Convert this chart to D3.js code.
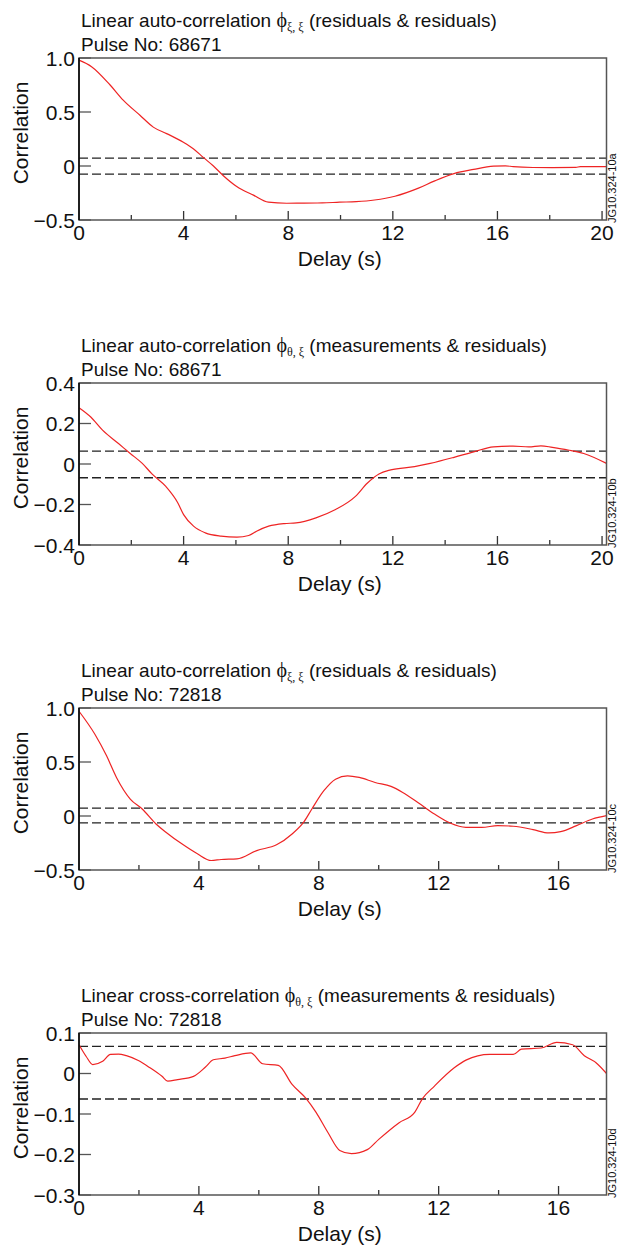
<!DOCTYPE html>
<html>
<head>
<meta charset="utf-8">
<script src="https://cdn.jsdelivr.net/npm/d3@7"></script>
<style>
  html, body { margin: 0; padding: 0; background: #fff; }
  svg { display: block; font-family: "Liberation Sans", Arial, Helvetica, sans-serif; }
</style>
</head>
<body>
<svg id="chart" width="619" height="1251"></svg>
<script>
// Correlation curves (delay in s, correlation value)
const delays1 = [0, 0.48, 1.19, 1.69, 2.33, 2.84, 3.35, 3.99, 4.37, 4.75, 5.14, 5.52, 6.03, 6.67, 7.24, 7.94, 8.6, 9.3, 9.96, 10.6, 11.3, 12.08, 12.98, 13.58, 14.34, 15.09, 15.85, 16.3, 16.6, 17.36, 18.1, 19.0, 19.17, 20.17];
const corr1   = [0.98, 0.92, 0.75, 0.61, 0.47, 0.36, 0.30, 0.22, 0.16, 0.08, 0.0, -0.09, -0.19, -0.27, -0.335, -0.345, -0.343, -0.342, -0.335, -0.33, -0.315, -0.28, -0.205, -0.14, -0.07, -0.032, -0.002, 0.002, -0.006, -0.014, -0.015, -0.013, -0.006, -0.006];

const delays2 = [0, 0.45, 0.9, 1.51, 1.96, 2.42, 2.79, 3.32, 3.77, 4.0, 4.38, 4.83, 5.43, 6.04, 6.49, 6.79, 7.25, 7.85, 8.3, 9.06, 9.81, 10.57, 11.02, 11.47, 11.92, 12.83, 13.43, 14.34, 15.09, 15.85, 16.6, 17.2, 17.66, 18.1, 18.7, 19.3, 20.17];
const corr2   = [0.278, 0.232, 0.167, 0.101, 0.052, 0.003, -0.049, -0.111, -0.19, -0.25, -0.307, -0.34, -0.356, -0.361, -0.353, -0.332, -0.307, -0.294, -0.291, -0.266, -0.225, -0.16, -0.095, -0.049, -0.029, -0.013, 0.003, 0.033, 0.06, 0.085, 0.088, 0.085, 0.09, 0.082, 0.069, 0.052, 0.003];

const delays3 = [0, 0.53, 0.92, 1.25, 1.71, 2.11, 2.57, 2.9, 3.43, 3.95, 4.41, 4.74, 5.27, 5.93, 6.59, 7.11, 7.51, 7.77, 8.17, 8.56, 8.96, 9.35, 9.88, 10.41, 10.8, 11.33, 11.86, 12.38, 12.91, 13.44, 13.97, 14.49, 15.15, 15.68, 16.07, 16.6, 17.13, 17.6];
const corr3   = [0.97, 0.757, 0.557, 0.357, 0.157, 0.065, -0.074, -0.15, -0.258, -0.35, -0.412, -0.403, -0.397, -0.32, -0.267, -0.166, -0.052, 0.065, 0.234, 0.341, 0.372, 0.357, 0.31, 0.274, 0.218, 0.12, 0.018, -0.065, -0.105, -0.105, -0.089, -0.095, -0.126, -0.157, -0.145, -0.089, -0.028, 0.003];

const delays4 = [0, 0.24, 0.46, 0.79, 1.05, 1.32, 1.58, 1.98, 2.37, 2.77, 2.96, 3.29, 3.82, 4.22, 4.48, 4.87, 5.2, 5.73, 6.13, 6.65, 7.11, 7.58, 7.91, 8.3, 8.7, 9.09, 9.62, 10.01, 10.67, 11.2, 11.46, 11.86, 12.52, 12.91, 13.7, 14.49, 14.76, 15.42, 15.94, 16.47, 16.86, 17.26, 17.6];
const corr4   = [0.071, 0.042, 0.022, 0.03, 0.047, 0.048, 0.044, 0.032, 0.014, -0.007, -0.019, -0.015, -0.007, 0.016, 0.034, 0.038, 0.044, 0.051, 0.024, 0.02, -0.027, -0.062, -0.096, -0.145, -0.19, -0.198, -0.188, -0.162, -0.122, -0.096, -0.062, -0.031, 0.014, 0.033, 0.047, 0.047, 0.06, 0.063, 0.077, 0.071, 0.044, 0.026, 0.0];

// Confidence bounds (upper, lower) for each panel
const bounds1 = [0.072, -0.075];
const bounds2 = [0.064, -0.068];
const bounds3 = [0.072, -0.063];
const bounds4 = [0.067, -0.063];

// Axis extents and tick labels
const xMaxes   = [20.17, 20.17, 17.6, 17.6];
const yDomains = [[-0.5, 1.0], [-0.4, 0.4], [-0.5, 1.0], [-0.3, 0.1]];
const yTicks1 = [1.0, 0.5, 0, -0.5];
const yTicks2 = [0.4, 0.2, 0, -0.2, -0.4];
const yTicks3 = [1.0, 0.5, 0, -0.5];
const yTicks4 = [0.1, 0, -0.1, -0.2, -0.3];
const xMajor1 = [0, 4, 8, 12, 16, 20];
const xMinor1 = [2, 6, 10, 14, 18];
const xMajor3 = [0, 4, 8, 12, 16];
const xMinor3 = [2, 6, 10, 14];

const titleHeads = ["Linear auto-correlation ", "Linear auto-correlation ", "Linear auto-correlation ", "Linear cross-correlation "];
const titleSubs  = ["\u03be, \u03be", "\u03b8, \u03be", "\u03be, \u03be", "\u03b8, \u03be"];
const titleTails = [" (residuals & residuals)", " (measurements & residuals)", " (residuals & residuals)", " (measurements & residuals)"];
const pulses = ["68671", "68671", "72818", "72818"];
const codes  = ["JG10.324-10a", "JG10.324-10b", "JG10.324-10c", "JG10.324-10d"];

const panels = [
  { x: delays1, y: corr1, b: bounds1, yt: yTicks1, xMaj: xMajor1, xMin: xMinor1 },
  { x: delays2, y: corr2, b: bounds2, yt: yTicks2, xMaj: xMajor1, xMin: xMinor1 },
  { x: delays3, y: corr3, b: bounds3, yt: yTicks3, xMaj: xMajor3, xMin: xMinor3 },
  { x: delays4, y: corr4, b: bounds4, yt: yTicks4, xMaj: xMajor3, xMin: xMinor3 }
];

const svg = d3.select("#chart");
const left = 79, right = 606.5, firstTop = 58, step = 325, plotH = 162;
const fmt = v => (v === 0 ? "0" : d3.format(".1f")(v).replace("-", "\u2212"));

panels.forEach((p, i) => {
  const top = firstTop + i * step, bottom = top + plotH;
  const x = d3.scaleLinear().domain([0, xMaxes[i]]).range([left, right]);
  const y = d3.scaleLinear().domain(yDomains[i]).range([bottom, top]);
  const g = svg.append("g");

  // title lines
  const t = g.append("text").attr("x", left + 2).attr("y", top - 31)
    .attr("font-size", 19).attr("fill", "#111");
  t.append("tspan").text(titleHeads[i]);
  t.append("tspan").attr("font-family", "'Liberation Serif', 'DejaVu Serif', serif").attr("font-size", 20).text("\u03d5");
  t.append("tspan").attr("font-family", "'Liberation Serif', 'DejaVu Serif', serif").attr("font-size", 12).attr("dy", 4).text(titleSubs[i]);
  t.append("tspan").attr("dy", -4).text(titleTails[i]);
  g.append("text").attr("x", left + 2).attr("y", top - 7)
    .attr("font-size", 19).attr("fill", "#111").text("Pulse No: " + pulses[i]);

  // confidence bounds
  g.selectAll("line.bound").data(p.b).enter().append("line")
    .attr("x1", left).attr("x2", right)
    .attr("y1", d => y(d)).attr("y2", d => y(d))
    .attr("stroke", "#222").attr("stroke-width", 1.3).attr("stroke-dasharray", "9,4");

  // correlation curve
  const line = d3.line().x(d => x(d[0])).y(d => y(d[1])).curve(d3.curveMonotoneX);
  g.append("path").datum(p.x.map((d, k) => [d, p.y[k]]))
    .attr("d", line).attr("fill", "none").attr("stroke", "#ee2424").attr("stroke-width", 1.2);

  // ticks
  g.selectAll("line.ymaj").data(p.yt).enter().append("line")
    .attr("x1", left).attr("x2", left + 12).attr("y1", d => y(d)).attr("y2", d => y(d))
    .attr("stroke", "#555").attr("stroke-width", 1.3);
  g.selectAll("line.xmaj").data(p.xMaj.filter(d => d > 0)).enter().append("line")
    .attr("x1", d => x(d)).attr("x2", d => x(d)).attr("y1", bottom).attr("y2", bottom - 9)
    .attr("stroke", "#333").attr("stroke-width", 1.3);
  g.selectAll("line.xmin").data(p.xMin).enter().append("line")
    .attr("x1", d => x(d)).attr("x2", d => x(d)).attr("y1", bottom).attr("y2", bottom - 5)
    .attr("stroke", "#333").attr("stroke-width", 1.3);

  // frame
  g.append("rect").attr("x", left).attr("y", top).attr("width", right - left).attr("height", plotH)
    .attr("fill", "none").attr("stroke", "#555").attr("stroke-width", 1.5);
  g.append("line").attr("x1", left).attr("x2", left).attr("y1", top).attr("y2", bottom)
    .attr("stroke", "#000").attr("stroke-width", 1.5);

  // tick labels
  g.selectAll("text.yl").data(p.yt).enter().append("text")
    .attr("x", left - 4).attr("y", d => y(d)).attr("dy", "0.36em")
    .attr("text-anchor", "end").attr("font-size", 21).attr("fill", "#111").text(fmt);
  g.selectAll("text.xl").data(p.xMaj).enter().append("text")
    .attr("x", d => x(d)).attr("y", bottom + 20)
    .attr("text-anchor", "middle").attr("font-size", 21).attr("fill", "#111").text(d => d);

  // axis titles
  g.append("text").attr("x", (left + right) / 2 - 3).attr("y", bottom + 46)
    .attr("text-anchor", "middle").attr("font-size", 21).attr("fill", "#111").text("Delay (s)");
  g.append("text").attr("transform", `translate(28,${top + plotH / 2 - 6}) rotate(-90)`)
    .attr("text-anchor", "middle").attr("font-size", 21).attr("fill", "#111").text("Correlation");

  // figure code
  g.append("text").attr("transform", `translate(615.5,${bottom + 3}) rotate(-90)`)
    .attr("font-size", 11).attr("fill", "#111").text(codes[i]);
});
</script>
</body>
</html>
